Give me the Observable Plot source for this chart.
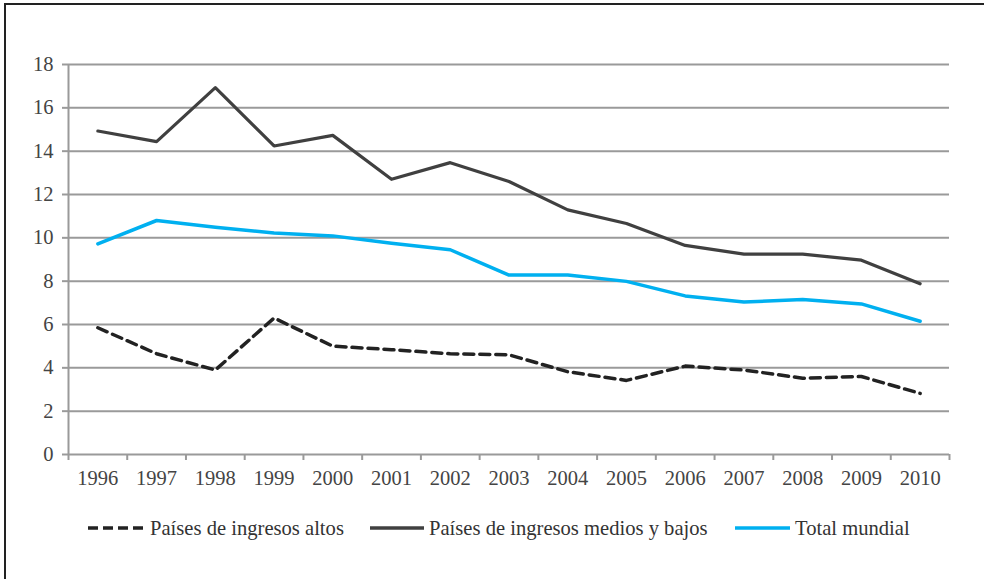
<!DOCTYPE html>
<html>
<head>
<meta charset="utf-8">
<script src="https://cdn.jsdelivr.net/npm/d3@7"></script>
<script src="https://cdn.jsdelivr.net/npm/@observablehq/plot@0.6"></script>
<style>
  html, body { margin: 0; padding: 0; background: #fff; }
  #frame {
    position: absolute; left: 4px; top: 3px; width: 980px; height: 576px;
    border-left: 2px solid #222; border-top: 2px solid #222; box-sizing: border-box;
  }
  #chart { position: absolute; left: 0; top: 0; }
  .legend { position: absolute; top: 509px; height: 28px; display: flex; align-items: center;
    font-family: "Liberation Serif", "Times New Roman", Times, "DejaVu Serif", serif; font-size: 20.6px; color: #333; white-space: nowrap; }
  .legend svg { margin-right: 5px; }
  #chart svg text { font-family: "Liberation Serif", "Times New Roman", Times, "DejaVu Serif", serif; }
</style>
</head>
<body>
<div id="frame">
  <div id="chart"></div>
</div>
<script>
const years = [1996, 1997, 1998, 1999, 2000, 2001, 2002, 2003, 2004, 2005, 2006, 2007, 2008, 2009, 2010];
const altos  = [5.85, 4.65, 3.9, 6.3, 5.0, 4.84, 4.65, 4.6, 3.82, 3.42, 4.08, 3.9, 3.52, 3.6, 2.82];
const medios = [14.93, 14.44, 16.93, 14.24, 14.73, 12.7, 13.47, 12.6, 11.29, 10.66, 9.65, 9.25, 9.25, 8.97, 7.88];
const total  = [9.72, 10.8, 10.49, 10.22, 10.09, 9.75, 9.45, 8.28, 8.28, 7.99, 7.32, 7.04, 7.15, 6.95, 6.15];
const seriesNames = ["Países de ingresos altos", "Países de ingresos medios y bajos", "Total mundial"];
const yTicks = [0, 2, 4, 6, 8, 10, 12, 14, 16, 18];

const rows = (vals) => years.map((y, i) => ({year: y, value: vals[i]}));
const bounds = years.map(y => y - 0.5).concat([years[years.length - 1] + 0.5]);
const grid = "#9a9a9a";
const serif = "'Liberation Serif', 'Times New Roman', Times, 'DejaVu Serif', serif";

const chart = Plot.plot({
  width: 978,
  height: 490,
  marginTop: 59,
  marginBottom: 41,
  marginLeft: 62,
  marginRight: 35,
  style: {fontFamily: serif, fontSize: "20.5px", color: "#444", background: "#fff"},
  x: {domain: [years[0] - 0.5, years[years.length - 1] + 0.5]},
  y: {domain: [0, 18]},
  marks: [
    Plot.gridY(yTicks.filter(d => d > 0), {stroke: grid, strokeOpacity: 1, strokeWidth: 2}),
    Plot.axisY(yTicks, {tickSize: 6, tickPadding: 9, stroke: grid, strokeWidth: 2, fill: "#444", label: null, fontFamily: serif}),
    Plot.axisX(bounds, {tickSize: 6, stroke: grid, strokeWidth: 2, text: null, label: null}),
    Plot.axisX(years, {tickSize: 0, tickPadding: 16, tickFormat: d => String(d), fill: "#444", label: null, fontFamily: serif}),
    Plot.ruleY([0], {stroke: grid, strokeWidth: 2}),
    Plot.ruleX([bounds[0]], {stroke: grid, strokeWidth: 2}),
    Plot.lineY(rows(altos), {x: "year", y: "value", stroke: "#222", strokeWidth: 3.5, strokeDasharray: "10,6"}),
    Plot.lineY(rows(medios), {x: "year", y: "value", stroke: "#404040", strokeWidth: 3.2}),
    Plot.lineY(rows(total), {x: "year", y: "value", stroke: "#00b0f0", strokeWidth: 3.5})
  ]
});
document.getElementById("chart").appendChild(chart);

const frame = document.getElementById("frame");
const legendItems = [
  {name: seriesNames[0], color: "#222", dash: "10,5", left: 82, w: 57},
  {name: seriesNames[1], color: "#404040", dash: null, left: 364, w: 54},
  {name: seriesNames[2], color: "#00b0f0", dash: null, left: 729, w: 55}
];
for (const it of legendItems) {
  const div = document.createElement("div");
  div.className = "legend";
  div.style.left = it.left + "px";
  div.innerHTML = `<svg width="${it.w}" height="10"><line x1="0" x2="${it.w}" y1="5" y2="5" stroke="${it.color}" stroke-width="3.5" ${it.dash ? `stroke-dasharray="${it.dash}"` : ""}/></svg><span>${it.name}</span>`;
  frame.appendChild(div);
}
</script>
</body>
</html>
